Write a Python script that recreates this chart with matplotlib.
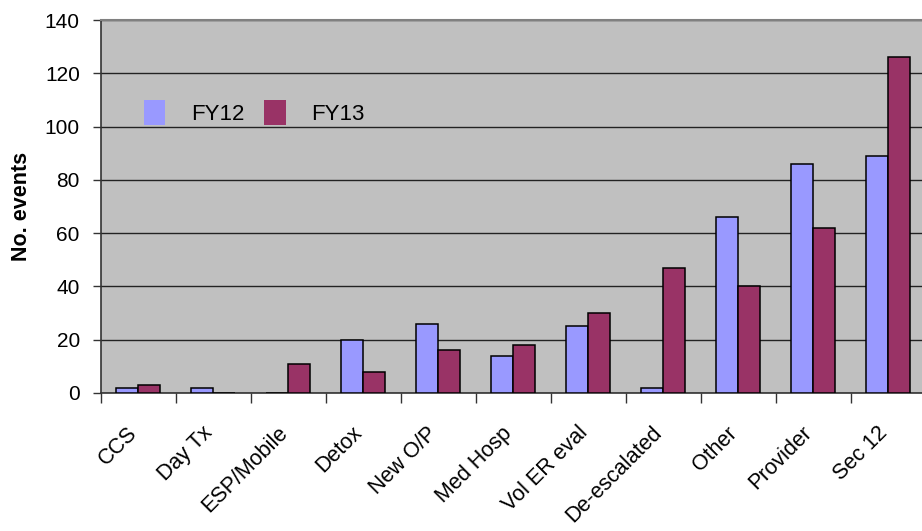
import matplotlib
matplotlib.use("Agg")
import matplotlib.pyplot as plt
import matplotlib.transforms as mtransforms
from matplotlib.patches import Patch
import numpy as np

categories = ["CCS", "Day Tx", "ESP/Mobile", "Detox", "New O/P", "Med Hosp",
              "Vol ER eval", "De-escalated", "Other", "Provider", "Sec 12"]
fy12 = [2, 2, 0, 20, 26, 14, 25, 2, 66, 86, 89]
fy13 = [3, 0, 11, 8, 16, 18, 30, 47, 40, 62, 126]
series_labels = ["FY12", "FY13"]
y_ticks = [0, 20, 40, 60, 80, 100, 120, 140]

plt.rcParams["font.family"] = ["Liberation Sans", "DejaVu Sans"]

W, H = 922, 531
fig = plt.figure(figsize=(W / 100, H / 100), dpi=100)
ax = fig.add_axes([100.7 / W, 1 - 393 / H, 825 / W, 373 / H])
ax.set_facecolor("#C0C0C0")

c12, c13 = "#9999FF", "#993366"
x = np.arange(len(categories))
w = 0.29
ax.bar(x - w / 2, fy12, width=w, color=c12, edgecolor="black",
       linewidth=1.1, zorder=3)
ax.bar(x + w / 2, fy13, width=w, color=c13, edgecolor="black",
       linewidth=1.1, zorder=3)

ax.set_xlim(-0.5, len(categories) - 0.5)
ax.set_ylim(0, 140)
ax.set_yticks(y_ticks)
ax.yaxis.grid(True, color="#222222", linewidth=1.0, zorder=1)
ax.set_axisbelow(True)

ax.tick_params(axis="y", direction="out", length=6, width=1, color="#333333",
               labelsize=15, pad=9)

# category labels at the group centres, tick marks at the group boundaries
ax.set_xticks(x)
ax.set_xticklabels(categories, rotation=45, ha="right", va="center",
                   rotation_mode="anchor", fontsize=15.5)
ax.tick_params(axis="x", which="major", length=0, pad=0)
shift = mtransforms.ScaledTranslation(-4 / 100, -37 / 100, fig.dpi_scale_trans)
for lab in ax.get_xticklabels():
    lab.set_transform(lab.get_transform() + shift)
ax.set_xticks(np.arange(-0.5, len(categories) - 0.4, 1.0), minor=True)
ax.tick_params(axis="x", which="minor", direction="out", length=7, width=1,
               color="#333333")

for side in ("left", "bottom"):
    ax.spines[side].set_color("#333333")
    ax.spines[side].set_linewidth(1.2)
ax.spines["top"].set_color("#808080")
ax.spines["top"].set_linewidth(1.5)
ax.spines["right"].set_visible(False)

ax.set_ylabel("No. events", fontsize=15.5, fontweight="bold")
ax.yaxis.set_label_coords(-0.0833, 0.5)

leg_handles = [Patch(facecolor=c12, edgecolor="none"),
               Patch(facecolor=c13, edgecolor="none")]
ax.legend(leg_handles, series_labels, loc="center left",
          bbox_to_anchor=(0.0525, 0.753), ncol=2, frameon=False, fontsize=16,
          handlelength=0.95, handleheight=1.35, handletextpad=1.17,
          columnspacing=0.9, borderaxespad=0, borderpad=0)

fig.savefig("out.png", dpi=100, facecolor="white")
